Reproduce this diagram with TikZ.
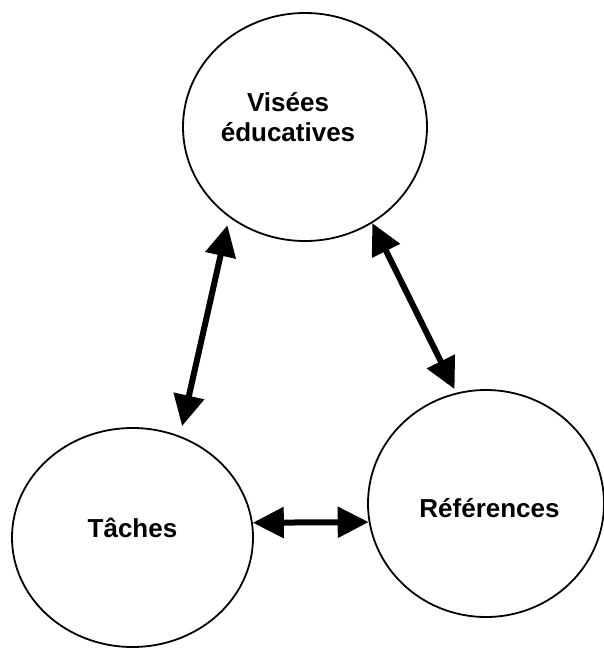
\documentclass[tikz,border=0pt]{standalone}
\usepackage{fontspec}
\setmainfont{Liberation Sans}
\usepackage{tikz}
\usetikzlibrary{arrows.meta}
\usetikzlibrary{shapes.geometric}

\begin{document}
\begin{tikzpicture}[x=1pt, y=-1pt,
    bubble/.style={draw=black, line width=1.8pt, ellipse, inner sep=0pt},
    bubbletext/.style={font=\fontsize{26}{30}\selectfont\bfseries, align=center, inner sep=0pt},
    biarrow/.style={line width=6pt, {Triangle[length=31pt, width=30pt]}-{Triangle[length=31pt, width=30pt]}}]
    \useasboundingbox (0, 0) rectangle (603, 650);

    \node[bubble, minimum width=244pt, minimum height=228pt] (visees) at (305, 127) {};
    \node[bubble, minimum width=241pt, minimum height=219pt] (taches) at (132.5, 537.5) {};
    \node[bubble, minimum width=236pt, minimum height=227pt] (references) at (486, 503.5) {};

    \node[bubbletext] (viseestext) at (288, 117) {Visées\\éducatives};
    \node[bubbletext] (tachestext) at (132.5, 527.5) {Tâches};
    \node[bubbletext] (referencestext) at (489.5, 508) {Références};

    \draw[biarrow, shorten <=8pt, shorten >=10pt] (visees.230) -- (taches.65);
    \draw[biarrow, shorten >=4pt] (visees.305) -- (references.105);
    \draw[biarrow] (taches.7) -- (references.189);
\end{tikzpicture}
\end{document}
